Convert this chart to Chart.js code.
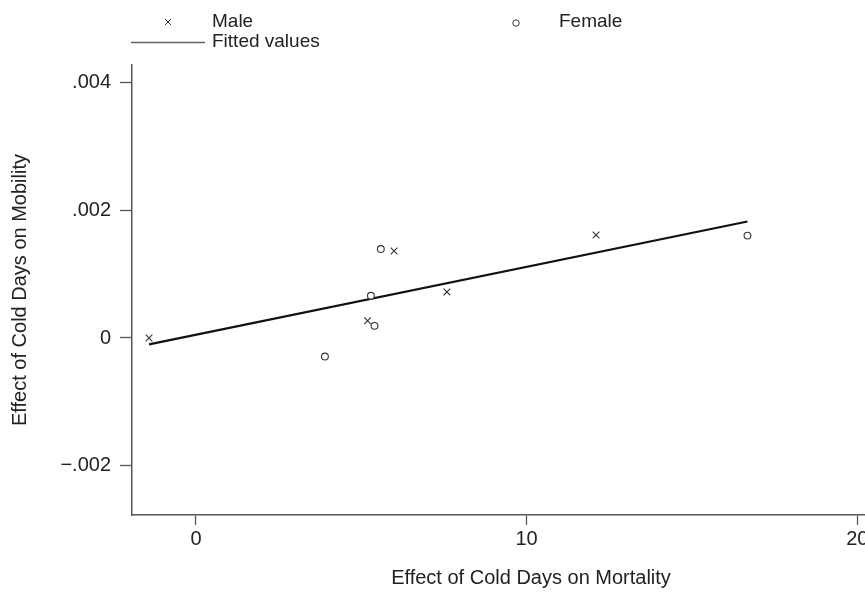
<!DOCTYPE html>
<html>
<head>
<meta charset="utf-8">
<script src="https://cdn.jsdelivr.net/npm/chart.js@4/dist/chart.umd.min.js"></script>
<style>
body{margin:0;overflow:hidden;background:#fff}
</style>
</head>
<body>
<canvas id="grafico" width="940" height="595"></canvas>
<script>
// valores
var maleX=[-1.42,5.19,5.99,7.59,12.1];
var maleY=[0,0.00027,0.00136,0.00072,0.00161];
var femaleX=[3.9,5.29,5.4,5.59,16.68];
var femaleY=[-0.00029,0.00066,0.00019,0.00139,0.0016];
var fitX=[-1.42,16.68];
var fitY=[-0.0001,0.00182];
var xTicks=[0,10,20];
var yTicks=[-0.002,0,0.002,0.004];
var yTickLabels=["\u2212.002","0",".002",".004"];
var legendLabels=["Male","Female","Fitted values"];

function pontos(xs,ys){
  return xs.map(function(x,i){return {x:x,y:ys[i]};});
}

var fonte="'Liberation Sans', Arial, sans-serif";
var cinza='#555';

// legenda desenhada a mao, igual ao stata
var legenda={
  id:'legenda',
  afterDraw:function(chart){
    var c=chart.ctx;
    c.save();
    c.font='19px '+fonte;
    c.fillStyle='#222';
    c.textBaseline='middle';
    c.fillText(legendLabels[0],212,22);
    c.fillText(legendLabels[1],559,22);
    c.fillText(legendLabels[2],212,42);
    c.strokeStyle='#333';
    c.lineWidth=1;
    c.beginPath();
    c.moveTo(165,19);c.lineTo(171,25);
    c.moveTo(171,19);c.lineTo(165,25);
    c.stroke();
    c.beginPath();
    c.arc(516,23,3.2,0,Math.PI*2);
    c.stroke();
    c.strokeStyle='#666';
    c.lineWidth=1.5;
    c.beginPath();
    c.moveTo(131,42.5);c.lineTo(205,42.5);
    c.stroke();
    c.restore();
  }
};

var ctx=document.getElementById('grafico');
var chartGraph=new Chart(ctx,{
  type:'scatter',
  data:{
    datasets:[
      {
        label:legendLabels[0],
        data:pontos(maleX,maleY),
        pointStyle:'crossRot',
        pointRadius:4.7,
        borderWidth:1.1,
        borderColor:'#333',
        backgroundColor:'transparent'
      },
      {
        label:legendLabels[1],
        data:pontos(femaleX,femaleY),
        pointStyle:'circle',
        pointRadius:3.4,
        borderWidth:1.1,
        borderColor:'#333',
        backgroundColor:'#fff'
      },
      {
        label:legendLabels[2],
        data:pontos(fitX,fitY),
        showLine:true,
        pointRadius:0,
        borderWidth:2.2,
        borderColor:'#111',
        backgroundColor:'transparent'
      }
    ]
  },
  options:{
    responsive:false,
    animation:false,
    layout:{padding:{top:65,right:10,left:0,bottom:0}},
    plugins:{legend:{display:false},tooltip:{enabled:false}},
    scales:{
      x:{
        type:'linear',
        min:-1.935,
        max:22.2,
        afterBuildTicks:function(s){s.ticks=xTicks.map(function(v){return {value:v};});},
        afterFit:function(s){s.height=80;},
        grid:{drawOnChartArea:false,tickLength:10,tickColor:cinza,tickWidth:1.3},
        border:{color:cinza,width:1.5},
        ticks:{color:'#222',padding:2,font:{family:fonte,size:20},maxRotation:0},
        title:{display:true,text:'Effect of Cold Days on Mortality',color:'#222',font:{family:fonte,size:20},padding:{top:0,bottom:5}}
      },
      y:{
        type:'linear',
        min:-0.002766,
        max:0.004266,
        afterBuildTicks:function(s){s.ticks=yTicks.map(function(v){return {value:v};});},
        afterFit:function(s){s.width=132;},
        grid:{drawOnChartArea:false,tickLength:12,tickColor:cinza,tickWidth:1.3},
        border:{color:cinza,width:1.5},
        ticks:{color:'#222',padding:9,font:{family:fonte,size:20},
          callback:function(v,i){return yTickLabels[i];}},
        title:{display:true,text:'Effect of Cold Days on Mobility',color:'#222',font:{family:fonte,size:20},padding:{top:8,bottom:0}}
      }
    }
  },
  plugins:[legenda]
});
</script>
</body>
</html>
